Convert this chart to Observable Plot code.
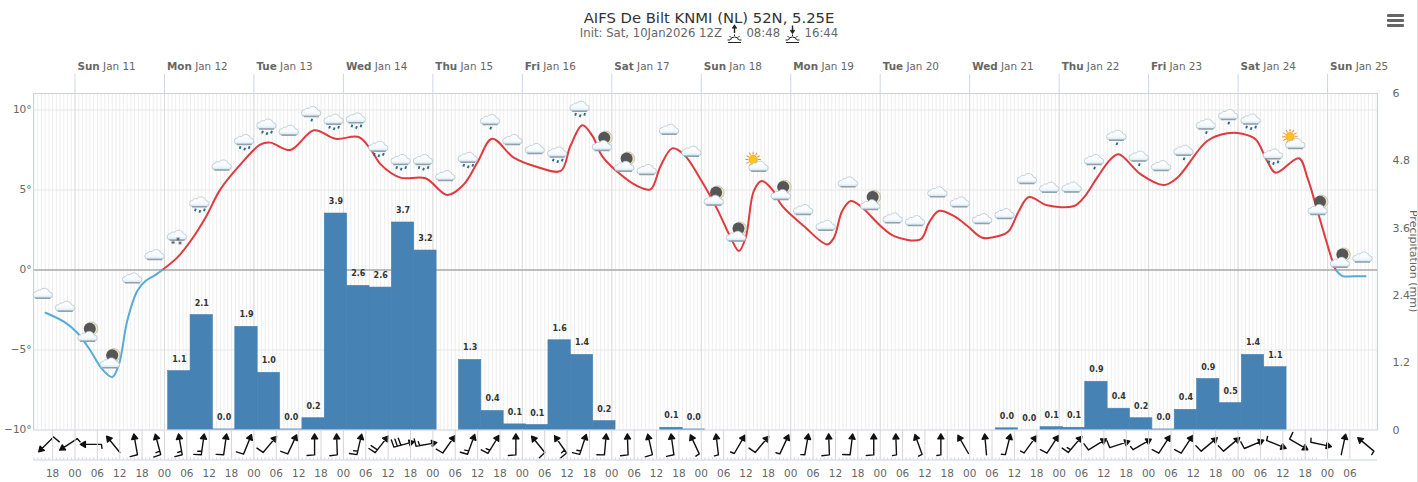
<!DOCTYPE html>
<html><head><meta charset="utf-8">
<script src="https://cdn.jsdelivr.net/npm/d3@7"></script>
<script src="https://cdn.jsdelivr.net/npm/@observablehq/plot@0.6"></script>
<style>
html,body{margin:0;padding:0;background:#fff;width:1418px;height:482px;overflow:hidden;font-family:"DejaVu Sans",sans-serif}
#head{position:relative;height:46px;width:1418px}
#title{position:absolute;left:0;width:1418px;top:8.5px;text-align:center;font-size:14.8px;line-height:17px;color:#333}
#sub{position:absolute;left:0;width:1418px;top:24px;text-align:center;font-size:11.7px;line-height:14px;color:#666}
#sub svg{vertical-align:-7px;margin:0 1px}
#menu{position:absolute;left:1387px;top:14px}
#edge{position:absolute;left:1417px;top:0;width:1px;height:482px;background:#ddd}
</style></head><body>
<div id="head">
 <div id="title">AIFS De Bilt KNMI (NL) 52N, 5.25E</div>
 <div id="sub">Init: Sat, 10Jan2026 12Z <svg width="15" height="20" viewBox="0 0 15 20"><g stroke="#222" fill="none"><path d="M7.5 9V2M5.5 4.5L7.5 1.5L9.5 4.5" stroke-width="1.4"/><path d="M3.5 16a4 3 0 0 1 8 0M7.5 10.5v1.5M2.5 12l1.5 1.5M12.5 12L11 13.5M0.5 16h2.5M12 16h2.5M1 18.5h13" stroke-width="1"/></g></svg> 08:48 <svg width="15" height="20" viewBox="0 0 15 20"><g stroke="#222" fill="none"><path d="M7.5 1.5V8.5M5.5 6L7.5 9L9.5 6" stroke-width="1.4"/><path d="M3.5 16a4 3 0 0 1 8 0M7.5 10.5v1.5M2.5 12l1.5 1.5M12.5 12L11 13.5M0.5 16h2.5M12 16h2.5M1 18.5h13" stroke-width="1"/></g></svg> 16:44</div>
 <svg id="menu" width="17" height="14"><g fill="#666"><rect y="0" width="17" height="3" rx="1"/><rect y="5" width="17" height="3" rx="1"/><rect y="10" width="17" height="3" rx="1"/></g></svg>
</div>
<div id="edge"></div>
<div id="chart"></div>
<script>
// hours are counted from Sun Jan 11 00:00
const dayNames = ["Sun","Mon","Tue","Wed","Thu","Fri","Sat","Sun","Mon","Tue","Wed","Thu","Fri","Sat","Sun"];
const dayDates = ["Jan 11","Jan 12","Jan 13","Jan 14","Jan 15","Jan 16","Jan 17","Jan 18","Jan 19","Jan 20","Jan 21","Jan 22","Jan 23","Jan 24","Jan 25"];
const tempHours = [-7.9,-3.0,0.6,4.2,7.3,10.0,11.8,14.0,16.7,18.9,21.6,23.4,27.4,31.0,35.0,39.0,44.4,49.8,52.4,57.8,64.1,69.9,76.1,79.3,82.0,87.3,94.0,99.9,104.3,107.9,111.9,117.7,124.0,130.3,132.9,136.1,138.8,141.4,146.3,150.8,154.4,157.1,160.2,163.3,167.8,172.3,175.9,178.1,179.9,182.1,184.2,187.0,189.7,195.5,201.8,203.6,205.8,208.1,210.7,216.1,219.7,226.8,229.1,231.7,235.8,239.4,243.4,247.8,250.5,253.2,255.9,260.8,268.0,270.6,274.2,277.8,280.0,285.9,292.1,295.7,303.7,309.1,313.1,316.7,319.8,322.1,328.3,330.6,333.3,337.3,338.2,340.0,343.0,346.2];
const tempValues = [-2.67,-3.23,-3.92,-5.06,-6.2,-6.69,-5.9,-3.19,-1.31,-0.69,-0.31,0,0.77,1.81,3.27,5.04,6.6,7.85,7.96,7.5,8.73,8.2,8.31,7.54,6.6,5.77,5.73,4.69,5.35,6.7,8.2,7.02,6.44,6.19,7.75,9.04,8.38,7.12,5.98,5.25,5.04,6.5,7.6,7.23,5.67,3.79,2.02,1.19,2.02,4.94,5.56,5.04,4.0,2.75,1.6,2.02,3.69,4.31,4.0,2.75,2.12,1.92,2.96,3.69,3.37,2.75,2.02,2.12,2.44,3.69,4.56,4.04,4.0,4.52,5.77,6.92,7.23,5.98,5.31,5.77,8.06,8.54,8.52,8.17,6.81,6.08,6.98,5.77,3.69,0.56,0,-0.38,-0.39,-0.39];
// six-hourly slots, first slot centred at Jan 10 16:00
const precipHeights = [null,null,null,null,null,null,1.05,2.05,0.01,1.84,1.02,0.01,0.21,3.86,2.57,2.54,3.7,3.2,null,1.25,0.34,0.1,0.09,1.6,1.34,0.16,null,null,0.04,0.01,null,null,null,null,null,null,null,null,null,null,null,null,null,0.03,0.0,0.05,0.04,0.86,0.38,0.21,0.01,0.36,0.91,0.48,1.34,1.12,null,null,null,null];
const precipLabels = ["","","","","","","1.1","2.1","0.0","1.9","1.0","0.0","0.2","3.9","2.6","2.6","3.7","3.2","","1.3","0.4","0.1","0.1","1.6","1.4","0.2","","","0.1","0.0","","","","","","","","","","","","","","0.0","0.0","0.1","0.1","0.9","0.4","0.2","0.0","0.4","0.9","0.5","1.4","1.1","","","",""];
const iconKinds = ["c","c","m","m","c","c","s","r","c","r","r","c","l","r","r","r","r","r","c","r","l","c","c","r","r","m","m","c","c","c","m","m","u","m","c","c","c","m","c","c","c","c","c","c","c","c","c","l","l","l","c","l","l","l","r","r","u","m","m","c"];
const iconTemps = [-1.44,-2.25,-4.13,-5.79,-0.48,0.98,2.19,4.27,6.58,8.17,9.14,8.75,9.92,9.44,9.52,7.75,6.92,6.92,5.92,7.06,9.42,8.17,7.61,7.39,10.25,7.8,6.5,6.3,8.81,7.44,4.38,2.13,6.5,4.73,3.8,2.81,5.52,4.1,3.27,3.1,4.9,4.27,3.23,3.54,5.73,5.19,5.2,6.92,8.44,7.13,6.54,7.5,9.14,9.73,9.45,7.27,7.92,3.8,0.5,0.83];
const windDirs = [225,237,270,321,350,345,350,8,8,22,40,25,0,358,13,38,75,80,35,20,32,0,321,325,18,5,358,347,352,335,353,30,40,25,10,358,7,0,358,340,0,330,355,14,36,33,40,58,72,60,33,33,50,50,67,112,120,102,12,310];
const windBarbs = [1,0.5,0.5,0,1,1.5,1.5,1.5,1,1,1,1,1,1,1.5,2,3,1.5,1,1.5,1.5,1,1,1.5,1.5,1,1,1,1,0.5,0.5,0.5,1,0.5,0.5,1,1,1,0.5,0.5,0.5,0,0,0.5,0.5,1,1.5,1,1,0.5,1,1,1,1,1,0.5,1,0.5,0,0.5];
const leftTicks = [-10,-5,0,5,10];
const rightTicks = [0,1.2,2.4,3.6,4.8,6];

const jan11 = Date.UTC(2026,0,11);
const at = h => new Date(jan11 + h*3600000);
const yMin = -10, yMax = 11.03;
const p2y = p => yMin + p*(yMax-yMin)/6;       // precipitation (0..6 mm) on the shared frame
const windY = -10.9, stripY = -11.875;
const domain = [at(-11.13), at(349.4)];
const slot = i => -8 + 6*i;

const temps = tempHours.map((h,i)=>({t:at(h),h,v:tempValues[i]}));
const bars = precipHeights.map((v,i)=>({a:at(slot(i)-3),b:at(slot(i)+3),m:at(slot(i)),v,label:precipLabels[i]})).filter(d=>d.v!=null);
const winds = windDirs.map((d,i)=>({t:at(slot(i)),dir:d,b:windBarbs[i]}));
const icons = iconKinds.map((k,i)=>({t:at(slot(i)),k,v:iconTemps[i]}));
const days = dayNames.map((n,i)=>({t:at(24*i),n,d:dayDates[i]}));
const hours = d3.utcHour.range(at(-11),at(350));
const sixes = d3.utcHour.every(6).range(at(-6),at(343));

// ---- weather symbols
const cloud = `<path d="M8.5 20a3.2 3.2 0 0 1-.3-6.4a4 4 0 0 1 4.4-1.5a5 5 0 0 1 8.8 1.8a3 3 0 0 1 .2 6.1z" fill="url(#g)" stroke="#a9bdca" stroke-width=".7"/><path d="M7.5 20.2H22.5" stroke="#8fa1ab" stroke-width="1.5"/>`;
const defs = `<defs><linearGradient id="g" x1="0" y1="0" x2="0" y2="1"><stop offset="0" stop-color="#fff"/><stop offset=".7" stop-color="#f4f9fc"/><stop offset="1" stop-color="#cfe2ee"/></linearGradient></defs>`;
const drop = (x,y)=>`<path d="M${x+.9} ${y}L${x} ${y+2.6}" stroke="#2b6b8c" stroke-width="1.9"/>`;
const flake = (x,y)=>`<path d="M${x-1.8} ${y}h3.6M${x} ${y-1.8}v3.6M${x-1.3} ${y-1.3}l2.6 2.6M${x-1.3} ${y+1.3}l2.6-2.6" stroke="#556" stroke-width=".7"/>`;
const rays = d3.range(12).map(a=>`<path d="M9.5 3.6L9.5 .8" transform="rotate(${a*30} 9.5 8.5)" stroke="#f28c1e" stroke-width="1"/>`).join("");
const wrap = s => "data:image/svg+xml;charset=utf-8,"+encodeURIComponent(`<svg xmlns="http://www.w3.org/2000/svg" width="30" height="30" viewBox="0 0 30 30">${defs}${s}</svg>`);
const iconSrc = {
  c: wrap(cloud),
  l: wrap(cloud+drop(15,22.5)),
  r: wrap(cloud+drop(10.5,22)+drop(15,23.5)+drop(19.5,22)),
  s: wrap(cloud+flake(11,22.5)+flake(16,19)+flake(18,23)),
  m: wrap(`<circle cx="18.6" cy="7.6" r="6.6" fill="#efe8c8" stroke="#a8a48c" stroke-width=".6"/><circle cx="17.2" cy="7.6" r="6" fill="#565656"/>`+cloud),
  u: wrap(rays+`<circle cx="9.5" cy="8.5" r="4.2" fill="#ffc61a" stroke="#f28c1e" stroke-width=".6"/>`+cloud)
};

// ---- wind barb shape: shaft, filled head, barbs at the tail
const barbShape = b => ({draw(ctx,l){
  ctx.moveTo(0,0); ctx.lineTo(0,-l);
  ctx.moveTo(-3,5-l); ctx.lineTo(0,-l); ctx.lineTo(3,5-l); ctx.closePath();
  let left=b, d=0;
  while(left>0){
    const w = left>=1 ? 7.5 : 4;
    ctx.moveTo(0,-d); ctx.lineTo(-w,-d+0.6);
    left-=1; d+=3.6;
  }
}});
const windMarks = [0,0.5,1,1.5,2,3].map(b=>Plot.vector(winds.filter(d=>d.b===b),{
  x:"t", y:()=>windY, rotate:"dir", length:21, anchor:"middle", dx:1,
  shape:barbShape(b), stroke:"#111", fill:"#111", strokeWidth:1.4
}));

const chart = Plot.plot({
  width:1418, height:436,
  marginTop:47, marginBottom:52.5, marginLeft:33, marginRight:41,
  style:{fontFamily:"'DejaVu Sans',sans-serif",fontSize:"11px",color:"#666",background:"transparent",overflow:"visible"},
  x:{type:"utc",domain},
  y:{domain:[yMin,yMax]},
  marks:[
    Plot.ruleX(hours,{x:d=>d,y1:yMin,y2:yMax,stroke:"#eeeeee",strokeWidth:1}),
    Plot.ruleY([10,5,-5],{stroke:"#e6e6e6"}),
    Plot.ruleX(days,{x:"t",y1:yMin,y2:yMax,stroke:"#dcdcdc"}),
    Plot.ruleX(days,{x:"t",y1:yMax,y2:yMax,insetTop:-19,stroke:"#ccd6eb"}),
    Plot.ruleY([0],{stroke:"#a9a9a9",strokeWidth:1.3}),
    Plot.rect(bars,{x1:"a",x2:"b",y1:()=>yMin,y2:d=>p2y(d.v),fill:"#4682b4",stroke:"#4682b4",strokeWidth:0.6}),
    Plot.text(bars,{x:"m",y:d=>p2y(d.v),text:"label",dy:-12,fontSize:8,fontWeight:"bold",fill:"#333"}),
    Plot.frame({stroke:"#ccd3de"}),
    Plot.line(temps.filter(d=>d.v>=0),{x:"t",y:"v",stroke:"#e0393e",strokeWidth:2,curve:"catmull-rom"}),
    Plot.line(temps.filter(d=>d.v<=0),{x:"t",y:"v",z:d=>d.h<100,stroke:"#56abd8",strokeWidth:2,curve:"catmull-rom"}),
    Plot.image(icons,{x:"t",y:"v",src:d=>iconSrc[d.k],width:30,height:30,dx:-2.3}),
    ...windMarks,
    Plot.ruleY([stripY],{stroke:"#ccd3de"}),
    Plot.ruleX(hours.slice(0,345),{x:d=>d,y1:stripY,y2:stripY+0.12,stroke:"#ccd3de"}),
    Plot.axisX({anchor:"bottom",ticks:sixes,tickFormat:d3.utcFormat("%H"),tickSize:29.5,tickPadding:10.5,stroke:"#d6d6d6",fill:"#666",fontSize:10.5,label:null}),
    Plot.axisY({anchor:"left",ticks:leftTicks,tickFormat:d=>(d<0?"\u2212"+(-d):d)+"\u00b0",tickSize:0,tickPadding:2,fill:"#666",fontSize:10.5,label:null}),
    Plot.text(rightTicks,{frameAnchor:"right",y:p2y,text:d=>String(d),textAnchor:"start",dx:15,fill:"#666",fontSize:11}),
    Plot.text(["Precipitation (mm)"],{frameAnchor:"right",y:()=>0.56,text:d=>d,rotate:90,textAnchor:"middle",dx:36,fill:"#666",fontSize:11}),
    Plot.text(days,{x:"t",frameAnchor:"top",text:d=>d.n+"|"+d.d,dy:-31,dx:2.5,textAnchor:"start",fill:"#666",fontSize:10.4,className:"dayhead"})
  ]
});
// bold weekday, regular date
d3.select(chart).selectAll(".dayhead text").each(function(){
  const [n,d]=this.textContent.split("|");
  const s=d3.select(this).text(null);
  s.append("tspan").attr("font-weight","bold").text(n);
  s.append("tspan").text("\u00a0"+d);
});
document.getElementById("chart").append(chart);
</script>
</body></html>
